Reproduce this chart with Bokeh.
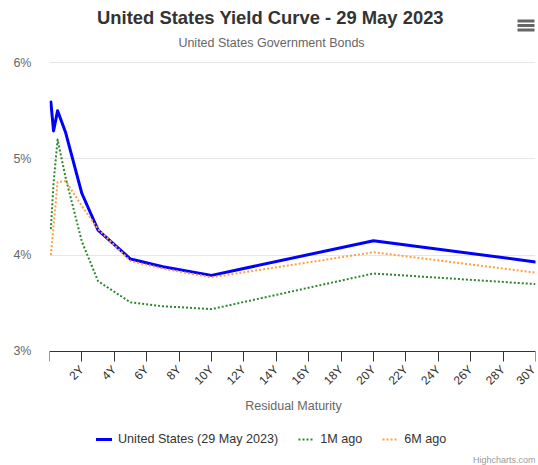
import math
from bokeh.plotting import figure
from bokeh.models import (Range1d, FixedTicker, Label, Legend, LegendItem,
                          BoxAnnotation, LinearAxis)
from bokeh.embed import file_html
from bokeh.resources import INLINE

# ---------------- data ----------------
maturities = [1/12, 3/12, 6/12, 1, 2, 3, 5, 7, 10, 20, 30]
us_now = [5.59, 5.29, 5.50, 5.27, 4.64, 4.26, 3.96, 3.88, 3.79, 4.15, 3.93]
one_month_ago = [4.27, 4.75, 5.20, 4.80, 4.14, 3.73, 3.51, 3.47, 3.44, 3.81, 3.70]
six_months_ago = [4.00, 4.30, 4.76, 4.77, 4.51, 4.27, 3.94, 3.86, 3.77, 4.03, 3.82]

series_names = ["United States (29 May 2023)", "1M ago", "6M ago"]
x_ticks = list(range(0, 31, 2))
x_tick_labels = ["" if t == 0 else f"{t}Y" for t in x_ticks]
y_ticks = [3, 4, 5, 6]
y_tick_labels = ["3%", "4%", "5%", "6%"]

title_text = "United States Yield Curve - 29 May 2023"
subtitle_text = "United States Government Bonds"
x_title = "Residual Maturity"
credit_text = "Highcharts.com"

FONT = "Liberation Sans"
PX_PER_PCT = 96.33  # vertical pixels per percentage point

# The frame spans the full canvas height; the y range is widened so that the
# 3%..6% band sits where it does in the reference and the x axis is drawn at 3%.
p = figure(width=538, height=465, output_backend="svg", toolbar_location=None,
           x_range=Range1d(0, 30),
           y_range=Range1d(3 - 114 / PX_PER_PCT, 6 + 62 / PX_PER_PCT),
           min_border_left=49, min_border_right=3, min_border_top=0,
           min_border_bottom=0, x_axis_location=None)
p.title.text = ""
p.outline_line_color = None
p.background_fill_color = "white"
p.border_fill_color = "white"

# grid
p.xgrid.visible = False
p.ygrid.ticker = FixedTicker(ticks=y_ticks)
p.ygrid.grid_line_color = "#e6e6e6"

# x axis drawn at the 3% level
xaxis = LinearAxis(fixed_location=y_ticks[0])
xaxis.ticker = FixedTicker(ticks=x_ticks)
xaxis.major_label_overrides = {t: l for t, l in zip(x_ticks, x_tick_labels)}
xaxis.major_label_orientation = math.pi / 4
xaxis.axis_line_color = "#333333"
xaxis.major_tick_line_color = "#333333"
xaxis.major_tick_out = 10
xaxis.major_tick_in = 0
xaxis.minor_tick_line_color = None
xaxis.major_label_text_font = FONT
xaxis.major_label_text_font_size = "12px"
xaxis.major_label_text_color = "#333333"
xaxis.major_label_standoff = 6
p.add_layout(xaxis, "below")

# y axis
p.yaxis.ticker = FixedTicker(ticks=y_ticks)
p.yaxis.major_label_overrides = {t: l for t, l in zip(y_ticks, y_tick_labels)}
p.yaxis.axis_line_color = None
p.yaxis.major_tick_line_color = None
p.yaxis.minor_tick_line_color = None
p.yaxis.major_tick_out = 0
p.yaxis.major_tick_in = 0
p.yaxis.major_label_standoff = 18
p.yaxis.major_label_text_font = FONT
p.yaxis.major_label_text_font_size = "12.5px"
p.yaxis.major_label_text_color = "#666666"

# lines
r_us = p.line(maturities, us_now, line_color="#0000ff", line_width=3,
              line_join="round", line_cap="round")
r_1m = p.line(maturities, one_month_ago, line_color="#2f862f", line_width=2,
              line_dash="2 2", line_join="round")
r_6m = p.line(maturities, six_months_ago, line_color="#ffa042", line_width=2,
              line_dash="2 2", line_join="round")

# texts (screen units relative to the frame's bottom-left corner)
p.add_layout(Label(x=221, y=448, x_units="screen", y_units="screen", text=title_text,
                   text_align="center", text_baseline="middle", text_font=FONT,
                   text_font_size="18.4px", text_font_style="bold", text_color="#333333"))
p.add_layout(Label(x=222, y=423, x_units="screen", y_units="screen", text=subtitle_text,
                   text_align="center", text_baseline="middle", text_font=FONT,
                   text_font_size="12.5px", text_color="#666666"))
p.add_layout(Label(x=244, y=60, x_units="screen", y_units="screen", text=x_title,
                   text_align="center", text_baseline="middle", text_font=FONT,
                   text_font_size="12.5px", text_color="#666666"))
p.add_layout(Label(x=486, y=6, x_units="screen", y_units="screen", text=credit_text,
                   text_align="right", text_baseline="alphabetic", text_font=FONT,
                   text_font_size="9px", text_color="#999999"))

# menu icon
for top in (446, 441.5, 437):
    p.add_layout(BoxAnnotation(left=468, right=485, top=top, bottom=top - 3,
                               left_units="screen", right_units="screen",
                               top_units="screen", bottom_units="screen",
                               fill_color="#666666", fill_alpha=1, line_color=None))

legend = Legend(items=[LegendItem(label=series_names[0], renderers=[r_us]),
                       LegendItem(label=series_names[1], renderers=[r_1m]),
                       LegendItem(label=series_names[2], renderers=[r_6m])],
                orientation="horizontal", location=(47, 18),
                padding=0, margin=0, spacing=20, glyph_width=16, glyph_height=16,
                label_standoff=6, label_text_font=FONT, label_text_font_size="12.6px",
                label_text_color="#333333", border_line_color=None,
                background_fill_alpha=0)
p.add_layout(legend, "center")

open("out.html", "w").write(file_html(p, INLINE))
